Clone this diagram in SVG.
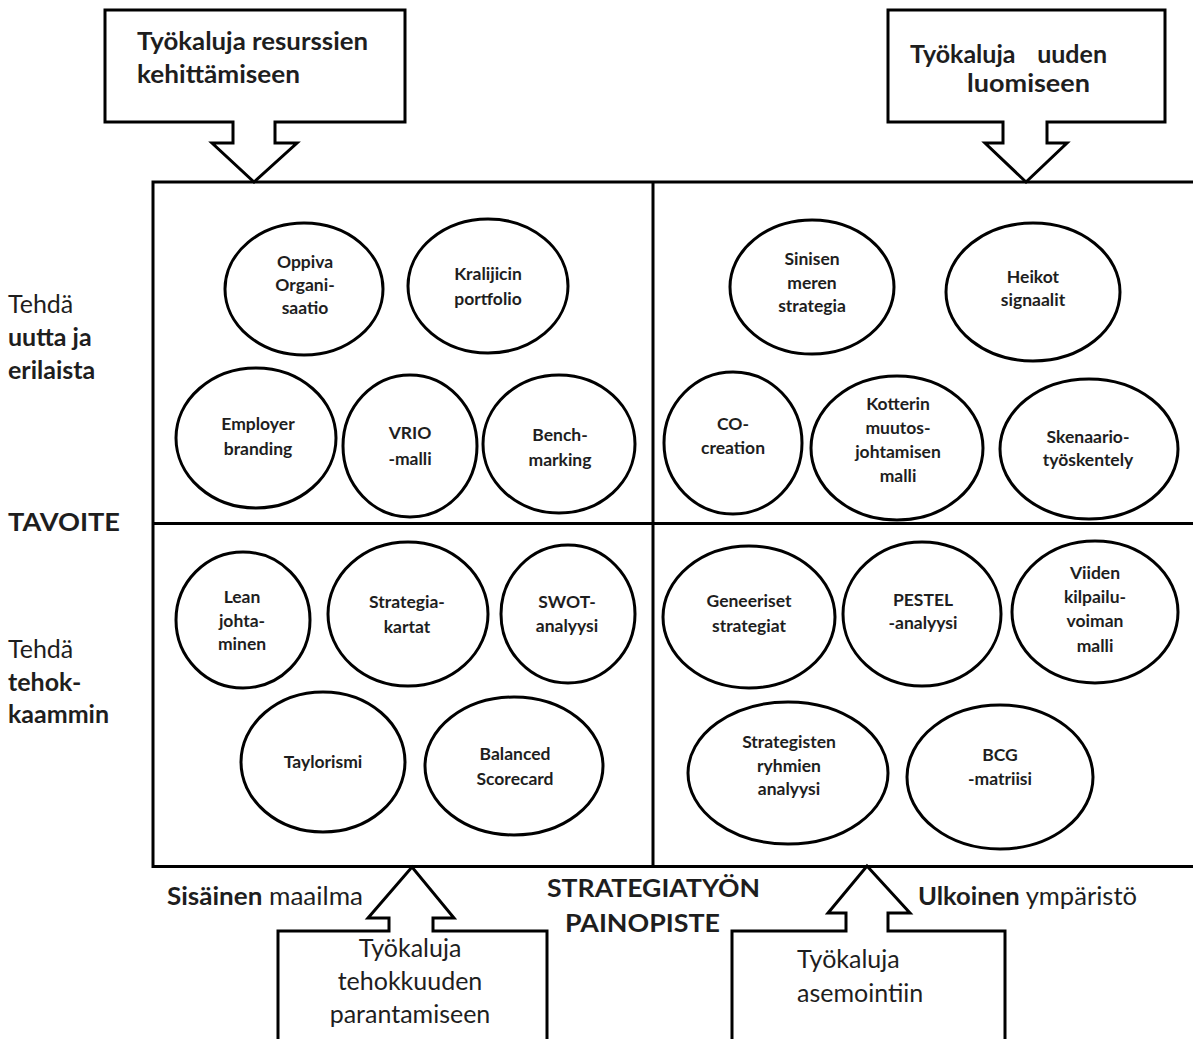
<svg xmlns="http://www.w3.org/2000/svg" width="1193" height="1039" viewBox="0 0 1193 1039">
  <style>
    text { font-family: Lato, "Liberation Sans", "DejaVu Sans", sans-serif; fill: #1e1e1e; }
    .frame { fill: none; stroke: #000; stroke-width: 3; }
    .callout { fill: #fff; stroke: #000; stroke-width: 3; stroke-linejoin: miter; }
    .tool ellipse { fill: #fff; stroke: #000; stroke-width: 3; }
    .tool text { font-size: 17.5px; font-weight: 700; text-anchor: middle; }
    .big { font-size: 25px; }
    .b { font-weight: 700; }
    .mid { text-anchor: middle; }
  </style>

  <rect width="1193" height="1039" fill="#fff"/>

  <!-- four-field frame (open to the right edge) -->
  <g id="frame">
    <rect class="frame" x="153" y="182" width="1060" height="684.5"/>
    <line class="frame" x1="653" y1="182" x2="653" y2="866.5"/>
    <line class="frame" x1="153" y1="523.5" x2="1200" y2="523.5"/>
  </g>

  <!-- block-arrow callouts pointing at the frame -->
  <g id="connectors">
    <path class="callout" d="M105,10 H405 V122 H275 V143 H297 L254,182 L212,143 H233 V122 H105 Z"/>
    <path class="callout" d="M888,10 H1165 V122 H1047 V143 H1067 L1026,182 L985,143 H1003 V122 H888 Z"/>
    <path class="callout" d="M278,1050 V931 H389 V918 H368 L412,867 L454,918 H433 V931 H547 V1050"/>
    <path class="callout" d="M732,1050 V931 H846 V913 H828 L867,866 L910,913 H888 V931 H1005 V1050"/>
  </g>

  <g id="callout-resurssit">
    <text class="big b" x="137" y="50" textLength="231" lengthAdjust="spacingAndGlyphs">Työkaluja resurssien</text>
    <text class="big b" x="137" y="83" textLength="163" lengthAdjust="spacingAndGlyphs">kehittämiseen</text>
  </g>
  <g id="callout-uusi">
    <text class="big b" x="910" y="63">Työkaluja</text>
    <text class="big b" x="1107" y="63" text-anchor="end">uuden</text>
    <text class="big b" x="967" y="92" textLength="123" lengthAdjust="spacingAndGlyphs">luomiseen</text>
  </g>
  <g id="callout-tehokkuus">
    <text class="big mid" x="410" y="957">Työkaluja</text>
    <text class="big mid" x="410" y="990">tehokkuuden</text>
    <text class="big mid" x="410" y="1023">parantamiseen</text>
  </g>
  <g id="callout-asemointi">
    <text class="big" x="797" y="968">Työkaluja</text>
    <text class="big" x="797" y="1002">asemointiin</text>
  </g>

  <!-- axis labels -->
  <g id="axis-tavoite">
    <text class="big" x="8" y="313">Tehdä</text>
    <text class="big b" x="8" y="346">uutta ja</text>
    <text class="big b" x="8" y="379">erilaista</text>
    <text class="big b" x="8" y="531" textLength="112" lengthAdjust="spacingAndGlyphs">TAVOITE</text>
    <text class="big" x="8" y="658">Tehdä</text>
    <text class="big b" x="8" y="691">tehok-</text>
    <text class="big b" x="8" y="723">kaammin</text>
  </g>
  <g id="axis-painopiste">
    <text class="big" x="167" y="905" textLength="196" lengthAdjust="spacingAndGlyphs"><tspan class="b">Sisäinen</tspan> maailma</text>
    <text class="big b" x="547" y="897" textLength="213" lengthAdjust="spacingAndGlyphs">STRATEGIATYÖN</text>
    <text class="big b" x="565" y="932" textLength="155" lengthAdjust="spacingAndGlyphs">PAINOPISTE</text>
    <text class="big" x="918" y="905" textLength="219" lengthAdjust="spacingAndGlyphs"><tspan class="b">Ulkoinen</tspan> ympäristö</text>
  </g>

  <!-- resources: new and different -->
  <g id="oppiva" class="tool">
    <ellipse cx="304" cy="289" rx="79" ry="66"/>
    <text x="305" y="268">Oppiva</text><text x="305" y="291">Organi-</text><text x="305" y="314">saatio</text>
  </g>
  <g id="kraljic" class="tool">
    <ellipse cx="488" cy="286" rx="80" ry="67"/>
    <text x="488" y="280">Kralijicin</text><text x="488" y="305">portfolio</text>
  </g>
  <g id="employer" class="tool">
    <ellipse cx="256" cy="438" rx="80" ry="70"/>
    <text x="258" y="430">Employer</text><text x="258" y="455">branding</text>
  </g>
  <g id="vrio" class="tool">
    <ellipse cx="410" cy="446" rx="67" ry="71"/>
    <text x="410" y="439">VRIO</text><text x="410" y="465">-malli</text>
  </g>
  <g id="benchmarking" class="tool">
    <ellipse cx="559" cy="444" rx="76" ry="69"/>
    <text x="560" y="441">Bench-</text><text x="560" y="466">marking</text>
  </g>

  <!-- creating the new -->
  <g id="sininen-meri" class="tool">
    <ellipse cx="812" cy="287" rx="82" ry="67"/>
    <text x="812" y="265">Sinisen</text><text x="812" y="289">meren</text><text x="812" y="312">strategia</text>
  </g>
  <g id="heikot-signaalit" class="tool">
    <ellipse cx="1033" cy="292" rx="87" ry="69"/>
    <text x="1033" y="283">Heikot</text><text x="1033" y="306">signaalit</text>
  </g>
  <g id="co-creation" class="tool">
    <ellipse cx="733" cy="443" rx="69" ry="71"/>
    <text x="733" y="430">CO-</text><text x="733" y="454">creation</text>
  </g>
  <g id="kotter" class="tool">
    <ellipse cx="897" cy="448" rx="86" ry="72"/>
    <text x="898" y="410">Kotterin</text><text x="898" y="434">muutos-</text><text x="898" y="458">johtamisen</text><text x="898" y="482">malli</text>
  </g>
  <g id="skenaario" class="tool">
    <ellipse cx="1089" cy="449" rx="89" ry="70"/>
    <text x="1088" y="443">Skenaario-</text><text x="1088" y="466">työskentely</text>
  </g>

  <!-- efficiency -->
  <g id="lean" class="tool">
    <ellipse cx="243" cy="620" rx="67" ry="68"/>
    <text x="242" y="603">Lean</text><text x="242" y="627">johta-</text><text x="242" y="650">minen</text>
  </g>
  <g id="strategiakartat" class="tool">
    <ellipse cx="408" cy="614" rx="80" ry="72"/>
    <text x="407" y="608">Strategia-</text><text x="407" y="633">kartat</text>
  </g>
  <g id="swot" class="tool">
    <ellipse cx="568" cy="614" rx="67" ry="69"/>
    <text x="567" y="608">SWOT-</text><text x="567" y="632">analyysi</text>
  </g>
  <g id="taylorismi" class="tool">
    <ellipse cx="323" cy="762" rx="82" ry="70"/>
    <text x="323" y="768">Taylorismi</text>
  </g>
  <g id="balanced-scorecard" class="tool">
    <ellipse cx="514" cy="766" rx="89" ry="69"/>
    <text x="515" y="760">Balanced</text><text x="515" y="785">Scorecard</text>
  </g>

  <!-- positioning -->
  <g id="geneeriset" class="tool">
    <ellipse cx="749" cy="617" rx="86" ry="71"/>
    <text x="749" y="607">Geneeriset</text><text x="749" y="632">strategiat</text>
  </g>
  <g id="pestel" class="tool">
    <ellipse cx="922" cy="614" rx="79" ry="72"/>
    <text x="923" y="606">PESTEL</text><text x="923" y="629">-analyysi</text>
  </g>
  <g id="viisi-voimaa" class="tool">
    <ellipse cx="1095" cy="612" rx="83" ry="71"/>
    <text x="1095" y="579">Viiden</text><text x="1095" y="603">kilpailu-</text><text x="1095" y="627">voiman</text><text x="1095" y="652">malli</text>
  </g>
  <g id="strategiset-ryhmat" class="tool">
    <ellipse cx="788" cy="773" rx="100" ry="71"/>
    <text x="789" y="748">Strategisten</text><text x="789" y="772">ryhmien</text><text x="789" y="795">analyysi</text>
  </g>
  <g id="bcg" class="tool">
    <ellipse cx="1000" cy="777" rx="93" ry="72"/>
    <text x="1000" y="761">BCG</text><text x="1000" y="785">-matriisi</text>
  </g>
</svg>
